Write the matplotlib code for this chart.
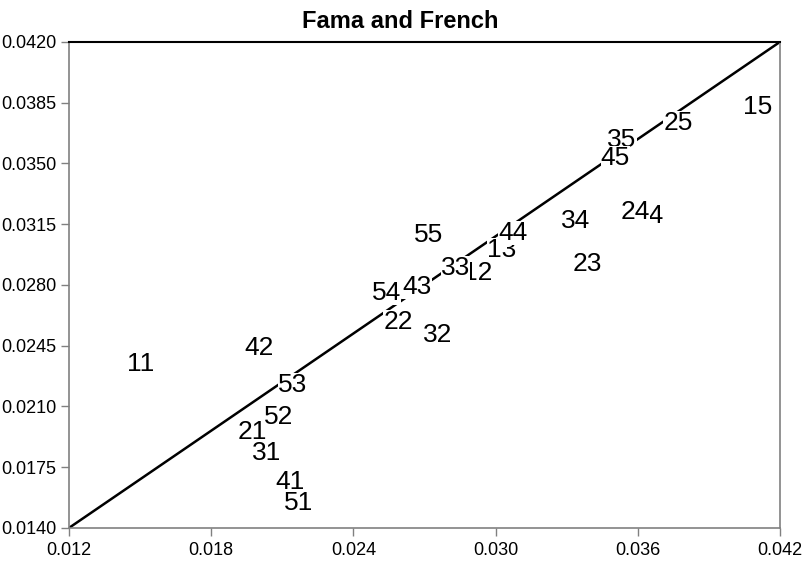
import matplotlib
matplotlib.use("Agg")
import matplotlib.pyplot as plt

plt.rcParams['font.family'] = ['Liberation Sans', 'DejaVu Sans']

# Portfolio labels (size quintile, book-to-market quintile)
labels = ['11', '12', '13', '14', '15',
          '21', '22', '23', '24', '25',
          '31', '32', '33', '34', '35',
          '41', '42', '43', '44', '45',
          '51', '52', '53', '54', '55']

# Predicted mean returns (x) and realised mean returns (y)
predicted = [0.01504, 0.02926, 0.03027, 0.03643, 0.04103,
             0.01972, 0.02588, 0.03385, 0.03588, 0.03769,
             0.02035, 0.02757, 0.02829, 0.03339, 0.03533,
             0.02132, 0.02000, 0.02668, 0.03073, 0.03504,
             0.02170, 0.02086, 0.02145, 0.02538, 0.02715]
realized = [0.02345, 0.02869, 0.03002, 0.03198, 0.03826,
            0.01953, 0.02587, 0.02921, 0.03221, 0.03733,
            0.01832, 0.02512, 0.02898, 0.03169, 0.03635,
            0.01665, 0.02437, 0.02789, 0.03100, 0.03532,
            0.01544, 0.02040, 0.02224, 0.02754, 0.03088]

x_ticks = [0.012, 0.018, 0.024, 0.030, 0.036, 0.042]
y_ticks = [0.0140, 0.0175, 0.0210, 0.0245, 0.0280, 0.0315, 0.0350, 0.0385, 0.0420]

fig = plt.figure(figsize=(8.11, 5.72), dpi=100)
ax = fig.add_axes([0.085, 0.077, 0.877, 0.850])

# Reference line across the plotting area
ax.plot([x_ticks[0], x_ticks[-1]], [y_ticks[0], y_ticks[-1]],
        color='black', lw=1.8, zorder=1, solid_capstyle='butt')

for lab, xv, yv in zip(labels, predicted, realized):
    ax.text(xv, yv, lab, ha='center', va='center', fontsize=19,
            color='black', zorder=2,
            bbox=dict(facecolor='white', edgecolor='none', pad=0.0))

ax.set_xlim(x_ticks[0], x_ticks[-1])
ax.set_ylim(y_ticks[0], y_ticks[-1])
ax.set_xticks(x_ticks)
ax.set_yticks(y_ticks)
ax.set_xticklabels([f'{v:.3f}' for v in x_ticks])
ax.set_yticklabels([f'{v:.4f}' for v in y_ticks])
ax.tick_params(direction='out', length=5.8, width=1, color='#808080',
               labelsize=13)
ax.tick_params(axis='y', pad=3.5)
ax.tick_params(axis='x', pad=4.5)

for side in ['left', 'bottom', 'right']:
    ax.spines[side].set_color('#808080')
    ax.spines[side].set_linewidth(1.2)
ax.spines['top'].set_color('black')
ax.spines['top'].set_linewidth(1.5)

fig.text(0.493, 0.963, 'Fama and French', fontsize=17, fontweight='bold',
         ha='center', va='center')

fig.savefig('out.png', dpi=100)
